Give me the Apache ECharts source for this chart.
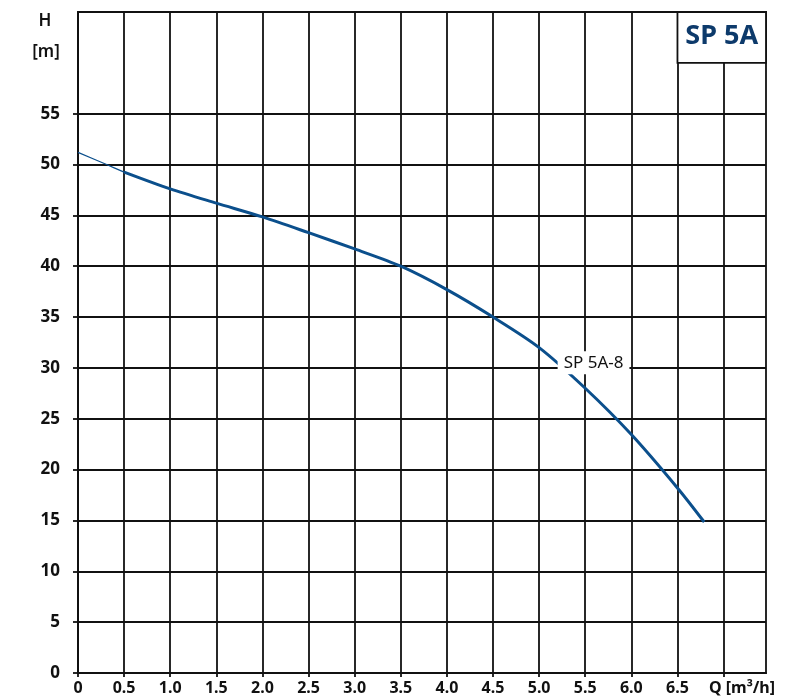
<!DOCTYPE html>
<html>
<head>
<meta charset="utf-8">
<script src="https://cdn.jsdelivr.net/npm/echarts@6/dist/echarts.min.js"></script>
<style>
html,body{margin:0;padding:0;background:#fff;}
#chart{width:786px;height:697px;}
</style>
</head>
<body>
<div id="chart"></div>
<script>
// ---- data ----
const xTickLabels = [0, 0.5, 1.0, 1.5, 2.0, 2.5, 3.0, 3.5, 4.0, 4.5, 5.0, 5.5, 6.0, 6.5];
const yTickLabels = [0, 5, 10, 15, 20, 25, 30, 35, 40, 45, 50, 55];
const curveThin = [[0, 51.2], [0.31, 50.0], [0.5, 49.25]];
const curveMain = [[0.5, 49.25], [1.0, 47.6], [1.5, 46.2], [2.0, 44.85], [2.5, 43.3], [3.0, 41.7],
  [3.5, 40.0], [4.0, 37.7], [4.5, 35.0], [5.0, 32.0], [5.5, 28.0], [6.0, 23.45],
  [6.5, 18.2], [6.79, 14.85]];
const curveName = 'SP 5A-8';
const curveLabelPos = [5.59, 30.5];
const title = 'SP 5A';
const titleBox = [[6.5, 65], [7.46, 60]];
const xName = 'Q [m³/h]';
const yName = ['H', '[m]'];

const FONT = 'Noto Sans';
const GRID = '#111111';
const BLUE = '#0b4f8c';
const LW = 1.8;

const chart = echarts.init(document.getElementById('chart'), null, {renderer: 'canvas'});
chart.setOption({
  animation: false,
  grid: {left: 78, top: 12, right: 20, bottom: 24, show: true, borderColor: GRID, borderWidth: LW, backgroundColor: 'transparent'},
  xAxis: {
    type: 'value', min: 0, max: 7.46, interval: 0.5,
    axisLine: {show: true, onZero: false, lineStyle: {color: GRID, width: LW}},
    axisTick: {show: true, length: 4, lineStyle: {color: GRID, width: LW}, customValues: [0,0.5,1,1.5,2,2.5,3,3.5,4,4.5,5,5.5,6,6.5,7]},
    axisLabel: {
      customValues: xTickLabels, margin: 7,
      color: '#111', fontFamily: FONT, fontWeight: 'bold', fontSize: 16,
      formatter: v => v === 0 ? '0' : v.toFixed(1)
    },
    splitLine: {show: true, lineStyle: {color: GRID, width: LW}}
  },
  yAxis: {
    type: 'value', min: 0, max: 65, interval: 5,
    axisLine: {show: true, lineStyle: {color: GRID, width: LW}},
    axisTick: {show: true, length: 5, lineStyle: {color: GRID, width: LW}, customValues: yTickLabels},
    axisLabel: {
      customValues: yTickLabels, margin: 18,
      color: '#111', fontFamily: FONT, fontWeight: 'bold', fontSize: 17
    },
    splitLine: {show: true, lineStyle: {color: GRID, width: LW}}
  },
  series: [
    {type: 'line', data: curveThin, showSymbol: false, smooth: 0.3, lineStyle: {color: BLUE, width: 1.2}, z: 3},
    {type: 'line', name: curveName, data: curveMain, showSymbol: false, smooth: 0.3, lineStyle: {color: BLUE, width: 3}, z: 3}
  ]
});

const p1 = chart.convertToPixel({gridIndex: 0}, titleBox[0]);
const p2 = chart.convertToPixel({gridIndex: 0}, titleBox[1]);
const lp = chart.convertToPixel({gridIndex: 0}, curveLabelPos);
chart.setOption({
  graphic: [
    {type: 'rect', shape: {x: p1[0], y: p1[1], width: p2[0] - p1[0], height: p2[1] - p1[1]},
      style: {fill: '#fff', stroke: GRID, lineWidth: LW}, z: 10},
    {type: 'text', x: (p1[0] + p2[0]) / 2, y: (p1[1] + p2[1]) / 2 - 1, z: 11,
      style: {text: title, fill: '#0d3a6b', font: 'bold 27px "' + FONT + '"', align: 'center', verticalAlign: 'middle'}},
    {type: 'text', x: lp[0], y: lp[1], z: 12,
      style: {text: curveName, fill: '#111', font: '17px "' + FONT + '"', align: 'center', verticalAlign: 'middle',
        backgroundColor: '#fff', padding: [3, 6, 3, 6]}},
    {type: 'text', x: 45, y: 21, z: 11,
      style: {text: yName[0], fill: '#111', font: '600 17px "' + FONT + '"', align: 'center', verticalAlign: 'middle'}},
    {type: 'text', x: 46, y: 52, z: 11,
      style: {text: yName[1], fill: '#111', font: '600 17px "' + FONT + '"', align: 'center', verticalAlign: 'middle'}},
    {type: 'text', x: 742, y: 688, z: 11,
      style: {text: xName, fill: '#111', font: 'bold 16px "' + FONT + '"', align: 'center', verticalAlign: 'middle'}}
  ]
});
</script>
</body>
</html>
